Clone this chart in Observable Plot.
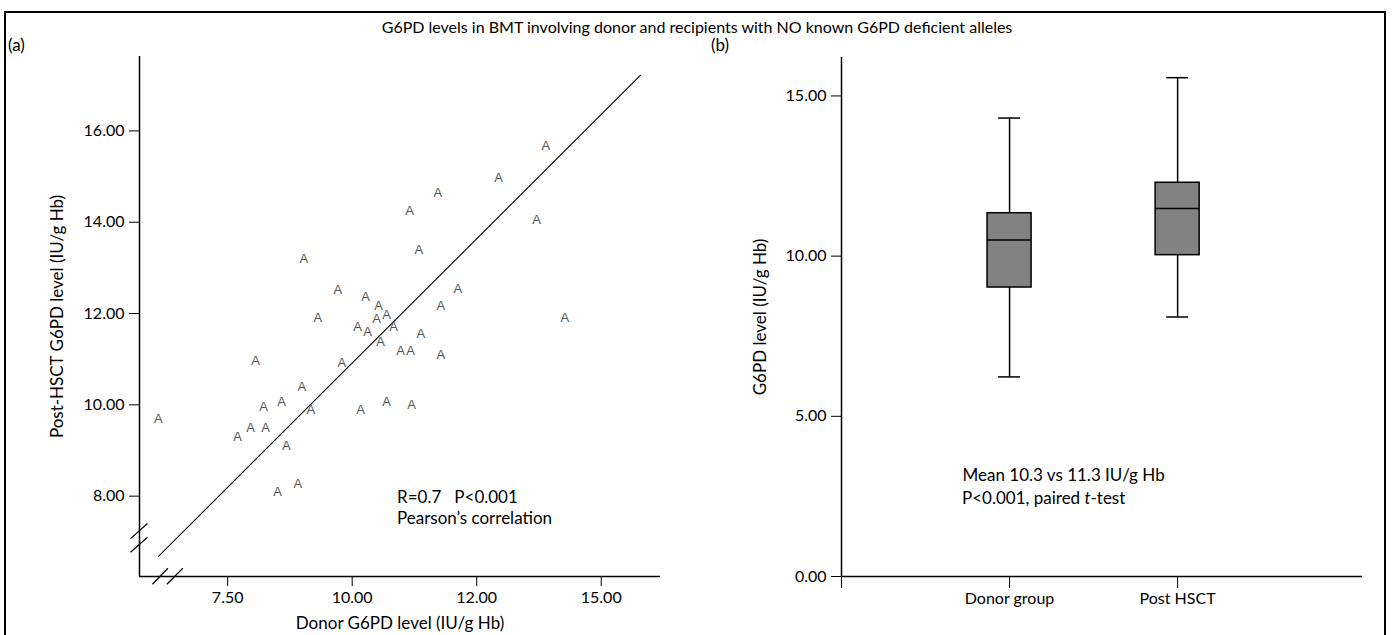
<!DOCTYPE html>
<html>
<head>
<meta charset="utf-8">
<script src="https://cdn.jsdelivr.net/npm/d3@7"></script>
<script src="https://cdn.jsdelivr.net/npm/@observablehq/plot@0.6"></script>
<style>
  html, body { margin: 0; padding: 0; background: #fff; }
  #root { position: relative; width: 1394px; height: 635px; overflow: hidden; font-family: Lato, "Open Sans", sans-serif; color: #000; background: #fff; }
  #frame { position: absolute; left: 4px; top: 11px; width: 1382px; height: 640px; border-top: 2px solid #000; border-left: 2px solid #000; border-right: 2px solid #000; z-index: 10; pointer-events: none; box-sizing: border-box; }
  #title { position: absolute; left: 0; width: 1394px; top: 17px; text-align: center; font-size: 16px; z-index: 4; }
  .panel-label { position: absolute; top: 34px; font-size: 17px; z-index: 4; }
  .chart { position: absolute; top: 0; z-index: 1; }
</style>
</head>
<body>
<div id="root">
  <div id="left" class="chart" style="left:0px"></div>
  <div id="right" class="chart" style="left:700px"></div>
  <div id="title">G6PD levels in BMT involving donor and recipients with NO known G6PD deficient alleles</div>
  <div class="panel-label" style="left:8px">(a)</div>
  <div class="panel-label" style="left:711px">(b)</div>
  <div id="frame"></div>
</div>
<script>
// ---------- Panel (a): scatter ----------
const donorLevel = [6.11, 7.70, 7.96, 8.26, 8.22, 8.58, 8.06, 8.68, 8.50, 8.91,
  8.99, 9.17, 9.03, 9.31, 9.71, 9.79, 10.11, 10.17, 10.27, 10.31,
  10.49, 10.53, 10.57, 10.69, 10.69, 10.83, 10.97, 11.17, 11.19, 11.15,
  11.34, 11.38, 11.72, 11.78, 11.78, 12.12, 12.94, 13.70, 13.89, 14.27];
const postLevel = [9.70, 9.29, 9.50, 9.50, 9.96, 10.07, 10.97, 9.11, 8.10, 8.26,
  10.40, 9.90, 13.19, 11.91, 12.51, 10.91, 11.70, 9.90, 12.37, 11.59,
  11.89, 12.16, 11.37, 11.98, 10.07, 11.70, 11.19, 11.19, 9.99, 14.26,
  13.40, 11.56, 14.65, 12.16, 11.10, 12.55, 14.98, 14.06, 15.68, 11.91];
const fitX = [6.11, 15.79];
const fitY = [6.68, 17.22];
const xTickValues = [7.5, 10, 12.5, 15];
const xTickLabels = ["7.50", "10.00", "12.00", "15.00"];
const yTickValues = [8, 10, 12, 14, 16];
const yTickLabels = ["8.00", "10.00", "12.00", "14.00", "16.00"];
// axis break slashes (value space)
const breakX1 = [5.55, 5.55, 5.99, 6.28];
const breakY1 = [7.07, 6.77, 6.07, 6.07];
const breakX2 = [5.89, 5.89, 6.30, 6.60];
const breakY2 = [7.40, 7.10, 6.42, 6.42];

const xDomA = [5.73, 16.19];
const yDomA = [6.24, 17.63];

const pts = donorLevel.map((d, i) => ({x: d, y: postLevel[i]}));
const fit = fitX.map((d, i) => ({x: d, y: fitY[i]}));
const breaks = breakX1.map((d, i) => ({x1: d, y1: breakY1[i], x2: breakX2[i], y2: breakY2[i]}));

const baseStyle = {fontFamily: "Lato, 'Open Sans', sans-serif", fontSize: "16px", color: "#000", background: "transparent"};

const left = Plot.plot({
  width: 700, height: 635,
  marginLeft: 139, marginRight: 40, marginTop: 56, marginBottom: 59,
  style: baseStyle,
  x: {domain: xDomA},
  y: {domain: yDomA},
  marks: [
    Plot.axisX({ticks: xTickValues, tickFormat: (d) => xTickLabels[xTickValues.indexOf(d)], tickSize: 10, tickPadding: 5,
      label: "Donor G6PD level (IU/g Hb)", labelAnchor: "center", labelArrow: "none", labelOffset: 52}),
    Plot.axisY({ticks: yTickValues, tickFormat: (d) => yTickLabels[yTickValues.indexOf(d)], tickSize: 10, tickPadding: 5,
      label: "Post-HSCT G6PD level (IU/g Hb)", labelAnchor: "center", labelArrow: "none", labelOffset: 89}),
    Plot.ruleX([xDomA[0]], {stroke: "#000", strokeWidth: 1.5}),
    Plot.ruleY([yDomA[0]], {stroke: "#000", strokeWidth: 1.5}),
    Plot.link(breaks, {x1: "x1", y1: "y1", x2: "x2", y2: "y2", stroke: "#000", strokeWidth: 1.2}),
    Plot.line(fit, {x: "x", y: "y", stroke: "#000", strokeWidth: 1.1}),
    Plot.text(pts, {x: "x", y: "y", text: () => "A", fill: "#555", fontSize: 13,
      fontFamily: "'Liberation Sans', Arial, sans-serif"}),
    Plot.text(["R=0.7   P<0.001", "Pearson\u2019s correlation"], {
      x: () => 10.9, y: (d, i) => [7.97, 7.52][i], text: (d) => d, textAnchor: "start", fontSize: 17,
      fill: "#000", style: "white-space: pre"})
  ]
});
left.querySelectorAll("g[aria-label='x-axis label'] text, g[aria-label='y-axis label'] text").forEach(t => t.setAttribute("font-size", "17"));
document.getElementById("left").appendChild(left);

// ---------- Panel (b): box plots ----------
const groups = ["Donor group", "Post HSCT"];
const groupPos = [1, 2];
const whiskerLow = [6.23, 8.10];
const q1 = [9.02, 10.03];
const median = [10.50, 11.49];
const q3 = [11.34, 12.29];
const whiskerHigh = [14.31, 15.57];
const yTicksB = [0, 5, 10, 15];
const yTickLabelsB = ["0.00", "5.00", "10.00", "15.00"];

const boxHalf = 0.131, capHalf = 0.065;
const boxes = groups.map((g, i) => ({g, x: groupPos[i], lo: whiskerLow[i], q1: q1[i], med: median[i], q3: q3[i], hi: whiskerHigh[i]}));
const xDomB = [0, 3.1];
const yDomB = [0, 16.2];

const right = Plot.plot({
  width: 694, height: 635,
  marginLeft: 141, marginRight: 32, marginTop: 57, marginBottom: 59,
  style: baseStyle,
  x: {domain: xDomB},
  y: {domain: yDomB},
  marks: [
    Plot.axisX({ticks: [0, ...groupPos], tickFormat: (d) => d === 0 ? "" : groups[groupPos.indexOf(d)],
      label: null, tickSize: 12, tickPadding: 4}),
    Plot.axisY({ticks: yTicksB, tickFormat: (d) => yTickLabelsB[yTicksB.indexOf(d)], tickSize: 10, tickPadding: 5,
      label: "G6PD level (IU/g Hb)", labelAnchor: "center", labelArrow: "none", labelOffset: 88}),
    Plot.ruleX([xDomB[0]], {stroke: "#000", strokeWidth: 1.5}),
    Plot.ruleY([yDomB[0]], {stroke: "#000", strokeWidth: 1.5}),
    Plot.ruleX(boxes, {x: "x", y1: "lo", y2: "q1", stroke: "#000", strokeWidth: 1.5}),
    Plot.ruleX(boxes, {x: "x", y1: "q3", y2: "hi", stroke: "#000", strokeWidth: 1.5}),
    Plot.ruleY(boxes, {y: "lo", x1: (d) => d.x - capHalf, x2: (d) => d.x + capHalf, stroke: "#000", strokeWidth: 1.5}),
    Plot.ruleY(boxes, {y: "hi", x1: (d) => d.x - capHalf, x2: (d) => d.x + capHalf, stroke: "#000", strokeWidth: 1.5}),
    Plot.rect(boxes, {x1: (d) => d.x - boxHalf, x2: (d) => d.x + boxHalf, y1: "q1", y2: "q3",
      fill: "#828282", stroke: "#000", strokeWidth: 1.5}),
    Plot.ruleY(boxes, {y: "med", x1: (d) => d.x - boxHalf, x2: (d) => d.x + boxHalf, stroke: "#000", strokeWidth: 1.5}),
    Plot.text(["Mean 10.3 vs 11.3 IU/g Hb"], {x: () => 0.72, y: () => 3.15, text: (d) => d,
      textAnchor: "start", fontSize: 17, fill: "#000"})
  ]
});
right.querySelectorAll("g[aria-label='y-axis label'] text").forEach(t => t.setAttribute("font-size", "17"));
document.getElementById("right").appendChild(right);

// second annotation line (with italic t), placed through the plot's own scales
{
  const sx = right.scale("x"), sy = right.scale("y");
  const ns = "http://www.w3.org/2000/svg";
  const t = document.createElementNS(ns, "text");
  t.setAttribute("x", sx.apply(0.72));
  t.setAttribute("y", sy.apply(2.43));
  t.setAttribute("dy", "0.32em");
  t.setAttribute("text-anchor", "start");
  t.setAttribute("font-size", "17");
  t.setAttribute("fill", "#000");
  const a = document.createElementNS(ns, "tspan"); a.textContent = "P<0.001, paired ";
  const b = document.createElementNS(ns, "tspan"); b.textContent = "t"; b.setAttribute("font-style", "italic");
  const c = document.createElementNS(ns, "tspan"); c.textContent = "-test";
  t.append(a, b, c);
  right.appendChild(t);
}
</script>
</body>
</html>
